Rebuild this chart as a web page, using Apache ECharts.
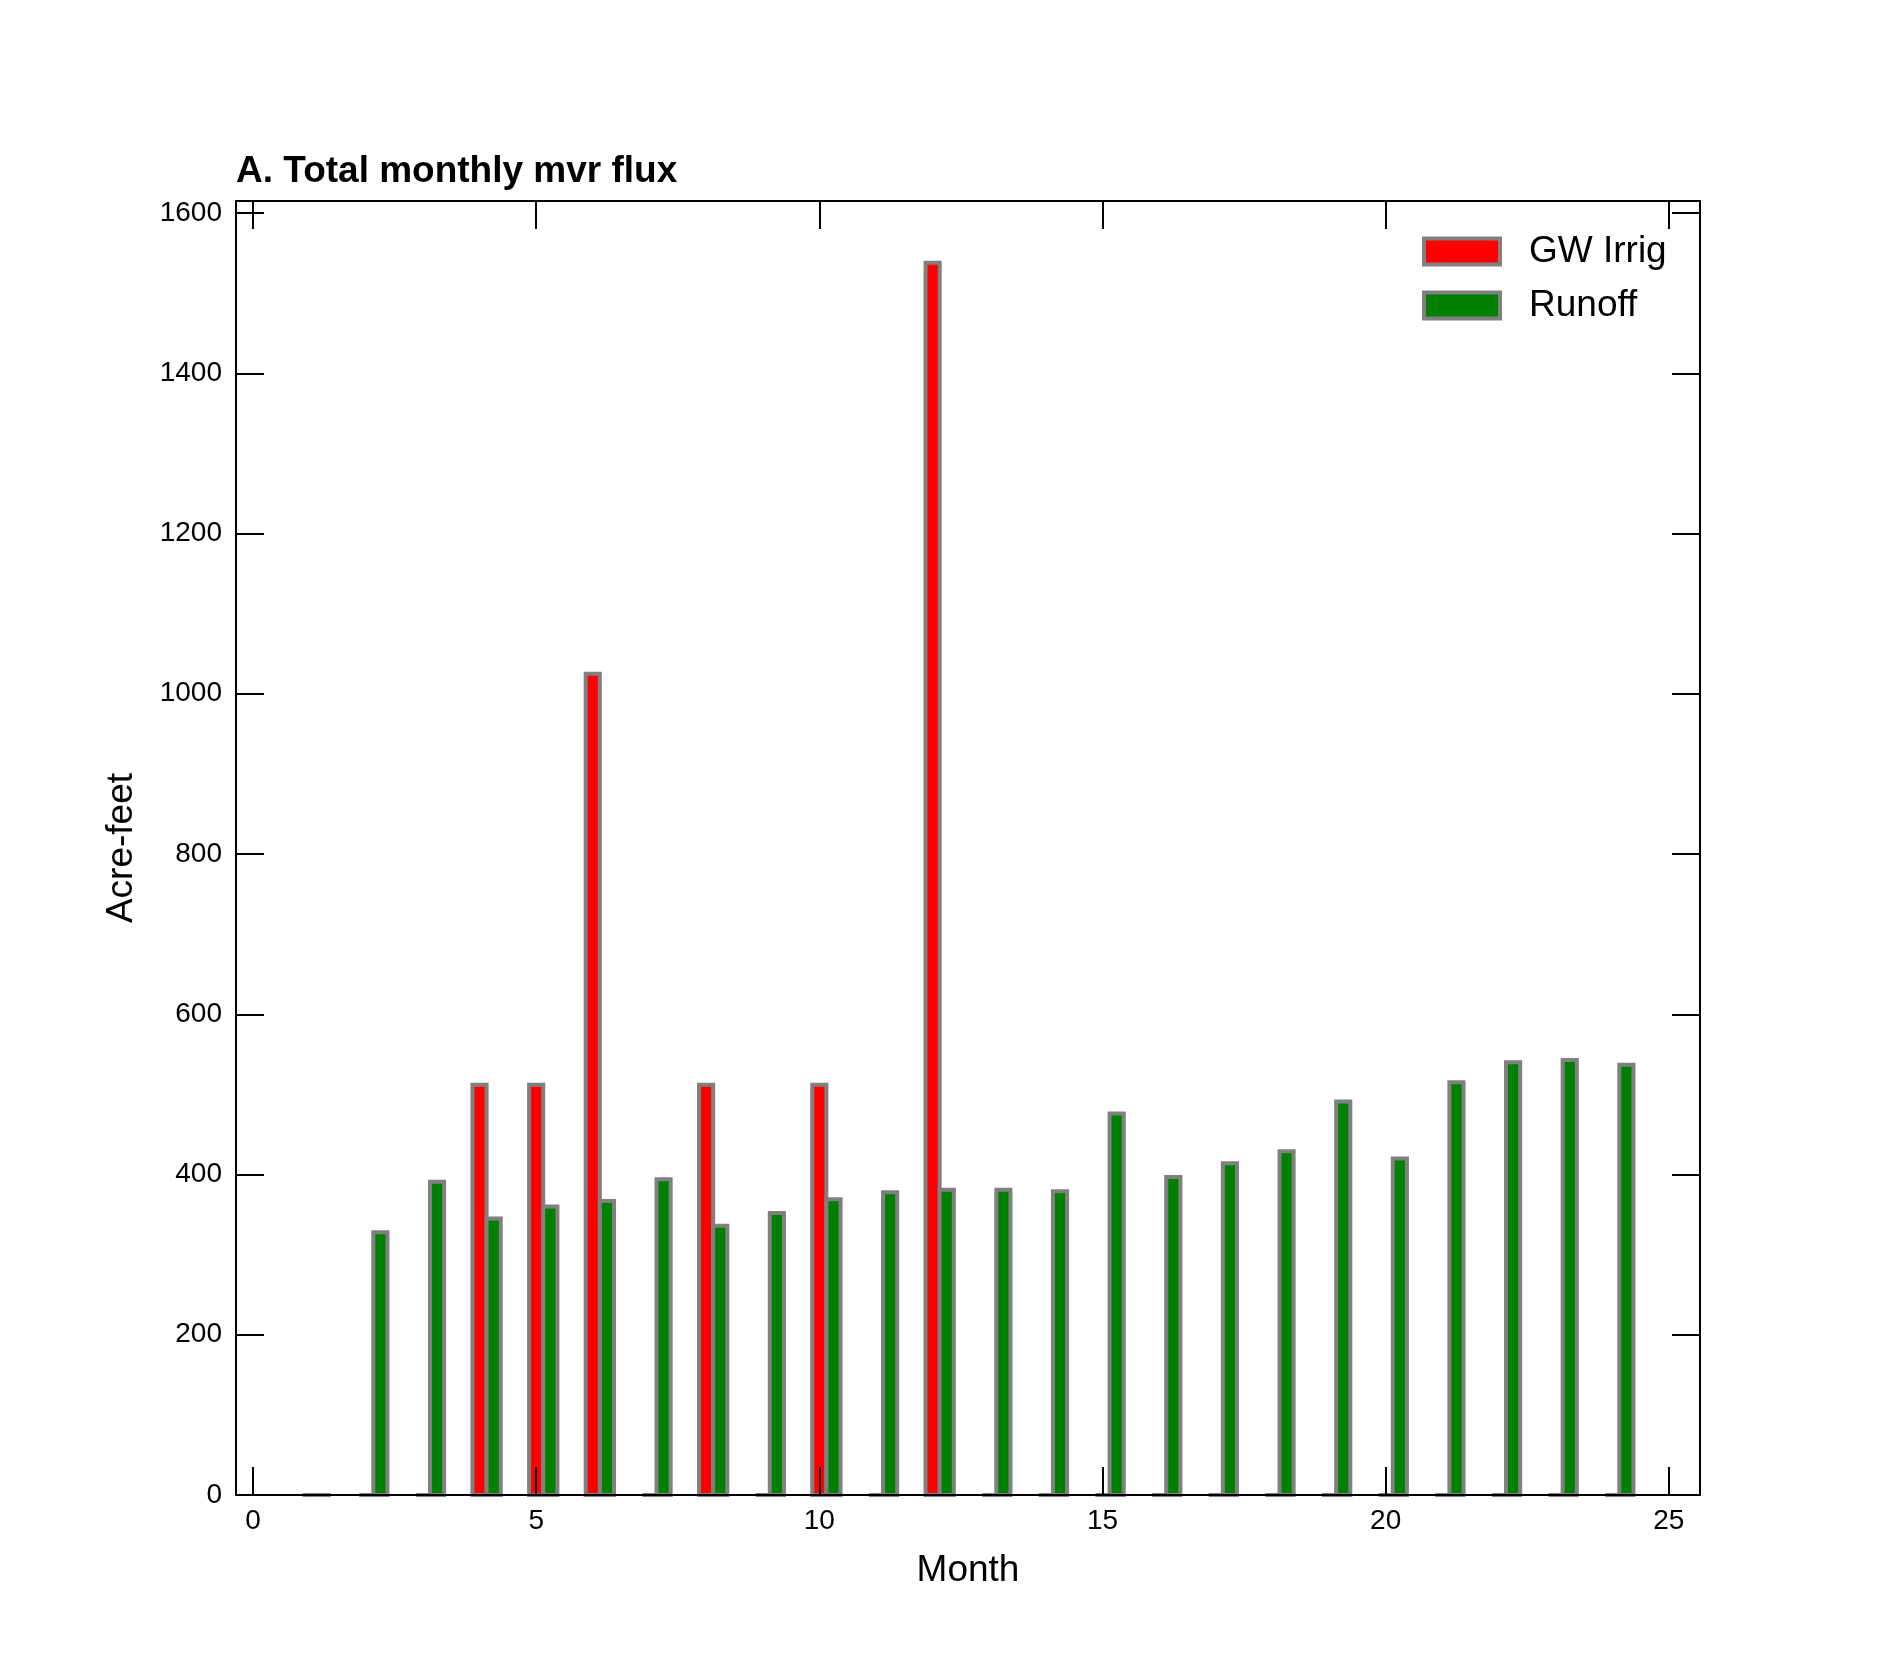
<!DOCTYPE html>
<html>
<head>
<meta charset="utf-8">
<script src="https://cdn.jsdelivr.net/npm/echarts@6/dist/echarts.min.js"></script>
<style>
  html, body { margin: 0; padding: 0; background: #fff; }
  #chart { width: 1890px; height: 1680px; }
</style>
</head>
<body>
<div id="chart"></div>
<script>
// monthly values
const months = [1, 2, 3, 4, 5, 6, 7, 8, 9, 10, 11, 12, 13, 14, 15, 16, 17, 18, 19, 20, 21, 22, 23, 24];
const gwIrrig = [0, 0, 0, 512, 512, 1025, 0, 512, 0, 512, 0, 1538, 0, 0, 0, 0, 0, 0, 0, 0, 0, 0, 0, 0];
const runoff = [0, 328, 391, 345, 360, 367, 394, 336, 352, 369, 378, 381, 381, 379, 476, 397, 414, 429, 491, 420, 515, 540, 543, 537];
const xTicks = [0, 5, 10, 15, 20, 25];
const yTicks = [0, 200, 400, 600, 800, 1000, 1200, 1400, 1600];

const BAR_W = 0.25;
const FONT = "Liberation Sans, Arial, sans-serif";

const chart = echarts.init(document.getElementById("chart"));

function barRenderer(color) {
  return function (params, api) {
    const x = api.value(0);
    const y = api.value(1);
    const p0 = api.coord([x - BAR_W / 2, y]);
    const p1 = api.coord([x + BAR_W / 2, 0]);
    return {
      type: "rect",
      shape: { x: p0[0], y: p0[1], width: p1[0] - p0[0], height: p1[1] - p0[1] },
      style: { fill: color, stroke: "#808080", lineWidth: 4 }
    };
  };
}

const plain = v => String(v);
const tickStyle = { show: true, inside: true, length: 28, lineStyle: { color: "#000", width: 2 } };
const lineStyle = { show: true, onZero: false, lineStyle: { color: "#000", width: 2 } };

const option = {
  animation: false,
  backgroundColor: "#fff",
  textStyle: { fontFamily: FONT },
  title: {
    text: "A. Total monthly mvr flux",
    left: 236,
    top: 153,
    padding: 0,
    textStyle: { fontFamily: FONT, fontSize: 37, fontWeight: "bold", color: "#000" }
  },
  legend: {
    orient: "vertical",
    left: 1422,
    top: 233,
    padding: 0,
    itemWidth: 76,
    itemHeight: 26,
    itemGap: 17,
    icon: "rect",
    itemStyle: { borderColor: "#808080", borderWidth: 4 },
    textStyle: { fontFamily: FONT, fontSize: 37, color: "#000", padding: [0, 0, 0, 24] },
    data: ["GW Irrig", "Runoff"]
  },
  grid: { left: 236, right: 190, top: 201, bottom: 185 },
  xAxis: [
    {
      type: "value",
      min: -0.3,
      max: 25.55,
      z: 10,
      name: "Month",
      nameLocation: "middle",
      nameGap: 57,
      nameTextStyle: { fontFamily: FONT, fontSize: 37, color: "#000" },
      axisLine: lineStyle,
      axisTick: Object.assign({ customValues: xTicks }, tickStyle),
      axisLabel: { customValues: xTicks, formatter: plain, fontFamily: FONT, fontSize: 28, color: "#000", margin: 12 },
      splitLine: { show: false }
    },
    {
      type: "value",
      position: "top",
      min: -0.3,
      max: 25.55,
      z: 10,
      axisLine: lineStyle,
      axisTick: Object.assign({ customValues: xTicks }, tickStyle),
      axisLabel: { show: false },
      splitLine: { show: false }
    }
  ],
  yAxis: [
    {
      type: "value",
      min: 0,
      max: 1615,
      z: 10,
      name: "Acre-feet",
      nameLocation: "middle",
      nameGap: 96,
      nameTextStyle: { fontFamily: FONT, fontSize: 37, color: "#000" },
      axisLine: lineStyle,
      axisTick: Object.assign({ customValues: yTicks }, tickStyle),
      axisLabel: { customValues: yTicks, formatter: plain, fontFamily: FONT, fontSize: 28, color: "#000", margin: 14 },
      splitLine: { show: false }
    },
    {
      type: "value",
      position: "right",
      min: 0,
      max: 1615,
      z: 10,
      axisLine: lineStyle,
      axisTick: Object.assign({ customValues: yTicks }, tickStyle),
      axisLabel: { show: false },
      splitLine: { show: false }
    }
  ],
  series: [
    {
      name: "GW Irrig",
      type: "custom",
      renderItem: barRenderer("#ff0000"),
      itemStyle: { color: "#ff0000", borderColor: "#808080", borderWidth: 4 },
      encode: { x: 0, y: 1 },
      data: months.map((m, i) => [m, gwIrrig[i]])
    },
    {
      name: "Runoff",
      type: "custom",
      renderItem: barRenderer("#008000"),
      itemStyle: { color: "#008000", borderColor: "#808080", borderWidth: 4 },
      encode: { x: 0, y: 1 },
      data: months.map((m, i) => [m + BAR_W, runoff[i]])
    }
  ]
};

chart.setOption(option);
</script>
</body>
</html>
